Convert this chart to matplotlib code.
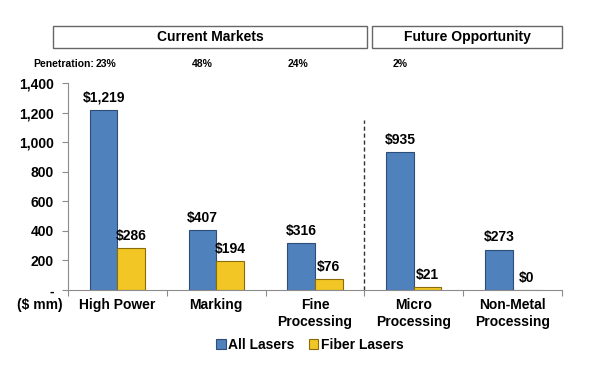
import numpy as np
import matplotlib
matplotlib.use('Agg')
import matplotlib.pyplot as plt
from matplotlib.patches import Rectangle

plt.rcParams['font.family'] = ['Liberation Sans', 'DejaVu Sans']
plt.rcParams['font.weight'] = 'bold'

# data
categories = ['High Power', 'Marking', 'Fine\nProcessing', 'Micro\nProcessing', 'Non-Metal\nProcessing']
all_lasers = [1219, 407, 316, 935, 273]
fiber_lasers = [286, 194, 76, 21, 0]
penetration = ['23%', '48%', '24%', '2%']
yticks = [0, 200, 400, 600, 800, 1000, 1200, 1400]
ytick_labels = ['-', '200', '400', '600', '800', '1,000', '1,200', '1,400']

blue = '#4F81BD'
blue_edge = '#2C4D75'
gold = '#F2C624'
gold_edge = '#8A6D0A'
gray = '#8C8C8C'

fig = plt.figure(figsize=(5.93, 3.66), dpi=100)
ax = fig.add_axes([68/593, 1-290/366, (562-68)/593, (290-83)/366])

x = np.arange(len(categories))
w = 0.28
ax.bar(x - w/2, all_lasers, w, color=blue, edgecolor=blue_edge, linewidth=0.8, label='All Lasers')
ax.bar(x + w/2, fiber_lasers, w, color=gold, edgecolor=gold_edge, linewidth=0.8, label='Fiber Lasers')

for xi, v in zip(x, all_lasers):
    ax.text(xi - w/2, v + 35, '${:,}'.format(v), ha='center', va='bottom', fontsize=10, fontweight='bold')
for xi, v in zip(x, fiber_lasers):
    ax.text(xi + w/2, v + 35, '${:,}'.format(v), ha='center', va='bottom', fontsize=10, fontweight='bold')

ax.set_xlim(-0.5, len(categories) - 0.5)
ax.set_ylim(0, 1400)
ax.set_yticks(yticks)
ax.set_yticklabels(ytick_labels, fontsize=10, fontweight='bold')
ax.set_xticks(np.arange(-0.5, len(categories)))
ax.set_xticklabels([])
ax.set_xticks(x, minor=True)
ax.set_xticklabels(categories, minor=True, fontsize=10, fontweight='bold', linespacing=1.2)
ax.tick_params(axis='x', which='minor', length=0, pad=6)
ax.tick_params(axis='x', which='major', length=4, color=gray)
ax.tick_params(axis='y', length=4, color=gray, pad=6)
for s in ['top', 'right']:
    ax.spines[s].set_visible(False)
for s in ['left', 'bottom']:
    ax.spines[s].set_color(gray)

# divider between current and future markets
ax.plot([2.5, 2.5], [0, 1150], color='#333333', linestyle=(0, (3, 2)), linewidth=1)

fig.text(17/593, 1-305/366, '($ mm)', ha='left', va='center', fontsize=10, fontweight='bold')

# header boxes
for (x0, x1, label) in [(53, 367, 'Current Markets'), (372, 562, 'Future Opportunity')]:
    fig.patches.append(Rectangle((x0/593, 1-48/366), (x1-x0)/593, 22/366, transform=fig.transFigure,
                                 facecolor='white', edgecolor='#666666', linewidth=1))
    fig.text((x0+x1)/2/593, 1-37/366, label, ha='center', va='center', fontsize=10, fontweight='bold')

fig.text(33/593, 1-64/366, 'Penetration:', ha='left', va='center', fontsize=7.5, fontweight='bold')
for px, p in zip([96, 192, 288, 393], penetration):
    fig.text(px/593, 1-64/366, p, ha='left', va='center', fontsize=7.5, fontweight='bold')

fig.legend(loc='center', bbox_to_anchor=(310/593, 1-345/366), ncol=2, frameon=False,
           fontsize=10, handlelength=0.7, handleheight=0.7, handletextpad=0.2, columnspacing=1.0)

fig.savefig('out.png', dpi=100)
